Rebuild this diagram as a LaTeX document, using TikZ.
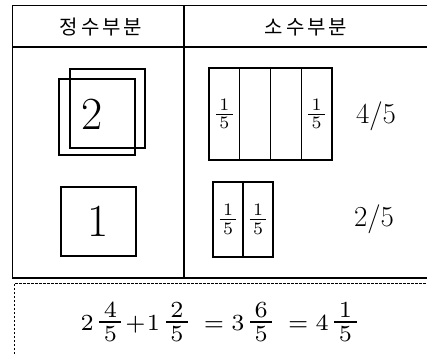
\documentclass[tikz,border=0pt]{standalone}
\usepackage{graphicx}
\usepackage{fontspec}
\usetikzlibrary{positioning}
\newfontfamily\korfont[LetterSpace=15]{Noto Sans CJK KR}

\newcommand*{\xleft}{12.5}
\newcommand*{\xmid}{184}
\newcommand*{\xright}{427}
\newcommand*{\ytop}{5.5}
\newcommand*{\yhead}{47}
\newcommand*{\ybot}{278}
\newcommand*{\cellfr}{\scalebox{2.5}{$\frac{\,1\,}{\,5\,}$}}
\newcommand*{\mixfr}[3]{{\scriptstyle #1}\kern0.5pt\frac{\,#2\,}{\,#3\,}}

\begin{document}
\begin{tikzpicture}
[
	x=1pt, y=-1pt,
	tabline/.style={line width=1.4pt},
	headtext/.style={font=\korfont\fontsize{20}{20}\selectfont},
	bignum/.style={font=\fontsize{46}{46}\selectfont},
	ratio/.style={font=\fontsize{29}{29}\selectfont},
	unitsq/.style={draw,line width=1.1pt,inner sep=0pt,outer sep=0pt},
	stripcell/.style={draw,line width=1.1pt,inner sep=0pt,outer sep=0pt,minimum width=30.75pt}
]
	\useasboundingbox (0,0) rectangle (427,354);

	% table
	\draw[tabline] (\xright,\ytop) -- (\xleft,\ytop) -- (\xleft,\ybot) -- (\xright,\ybot);
	\draw[tabline] (\xleft,\yhead) -- (\xright,\yhead);
	\draw[tabline] (\xmid,\ytop) -- (\xmid,\ybot);
	\draw[dash pattern=on 2.5pt off 1.5pt,line width=1pt] (14,354) -- (14,283) -- (\xright,283);

	% headings
	\node[headtext] (h1) at (101,27) {정수부분};
	\node[headtext] (h2) at (306,27) {소수부분};

	% whole parts
	\node[unitsq,minimum width=76pt,minimum height=76pt] at (97,117) (sqb) {};
	\node[unitsq,minimum width=75pt,minimum height=79pt] at (107.5,108.5) (sqf) {};
	\node[bignum] at (92,114) (two) {2};
	\node[unitsq,minimum width=75pt,minimum height=69pt,bignum] at (98.5,221.5) (one) {\raisebox{-6pt}{1}};

	% fraction parts
	\node[stripcell,minimum height=92pt] at (224.4,114) (a1) {\cellfr};
	\node[stripcell,minimum height=92pt,right=0pt of a1] (a2) {};
	\node[stripcell,minimum height=92pt,right=0pt of a2] (a3) {};
	\node[stripcell,minimum height=92pt,right=0pt of a3] (a4) {\cellfr};
	\node[ratio] at (376,116) (r1) {4/5};

	\node[stripcell,minimum height=75pt,minimum width=30pt] at (228,219.5) (b1) {\cellfr};
	\node[stripcell,minimum height=75pt,minimum width=30pt,right=0pt of b1] (b2) {\cellfr};
	\node[ratio] at (374,219) (r2) {2/5};

	% sum
	\node[inner sep=0pt] at (220.5,322) (sum) {\scalebox{3.3}{$\mixfr{2}{4}{5}{\scriptstyle+}\kern0.4pt
		\mixfr{1}{2}{5}\kern3.6pt{\scriptstyle=}\kern2.2pt\mixfr{3}{6}{5}\kern3.6pt{\scriptstyle=}\kern2.2pt
		\mixfr{4}{1}{5}$}};

\end{tikzpicture}
\end{document}
